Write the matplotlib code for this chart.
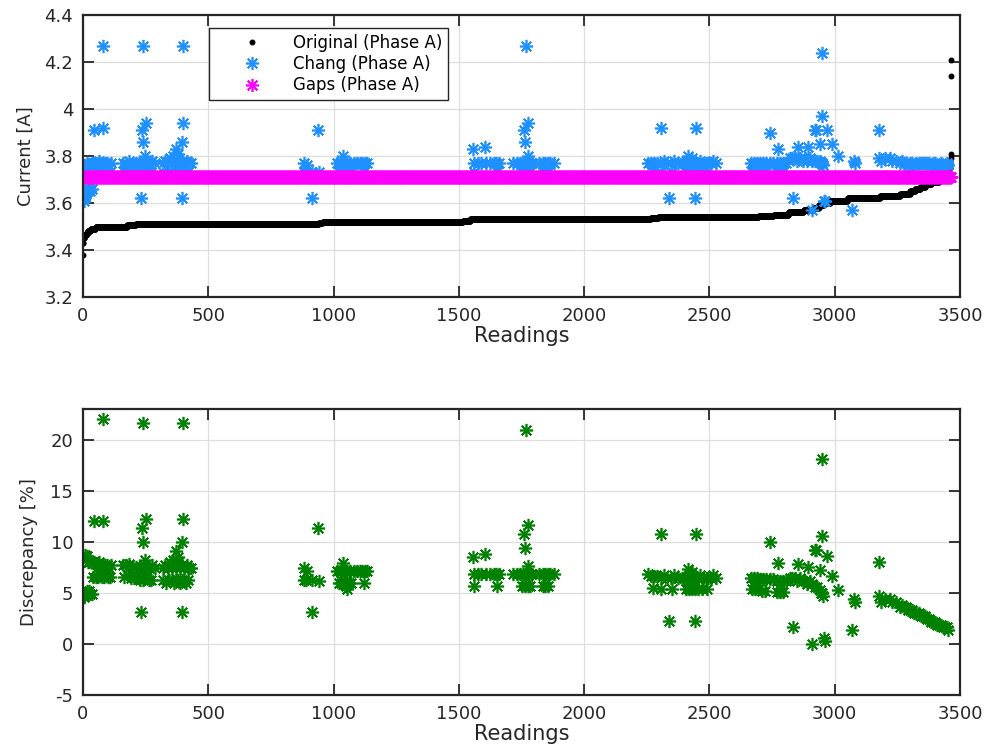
import numpy as np
import matplotlib
matplotlib.use('Agg')
import matplotlib.pyplot as plt
from matplotlib.ticker import FuncFormatter

plt.rcParams['font.family'] = ['DejaVu Sans']
plt.rcParams['axes.unicode_minus'] = False

# Original phase A current, sorted: level [A] and how many readings sit at it
orig_levels = [3.38, 3.43, 3.45, 3.46, 3.47, 3.48, 3.49, 3.50, 3.505, 3.51,
               3.515, 3.52, 3.525, 3.53, 3.535, 3.54, 3.545, 3.55, 3.56, 3.57,
               3.58, 3.59, 3.60, 3.61, 3.62, 3.63, 3.64, 3.65, 3.66, 3.67,
               3.68, 3.69, 3.70, 3.71, 3.73, 3.75, 3.77, 3.79, 3.81, 4.14, 4.21]
orig_runs = [1, 2, 3, 5, 8, 12, 20, 125, 35, 730,
             15, 560, 30, 720, 30, 400, 60, 60, 60, 40,
             20, 20, 25, 70, 130, 80, 40, 20, 20, 20,
             25, 30, 30, 10, 2, 2, 2, 1, 1, 1, 1]

# Gaps estimate (flat over all readings)
gaps_level = 3.71

# Chang estimate: reading index and current [A]
chang_idx = [
    3, 6, 10, 14, 18, 22, 26, 30, 36,
    8, 15, 25, 35, 45, 55, 62, 70, 78, 86, 95, 105, 112, 20, 40, 65,
    42, 52, 60, 68, 75, 82, 90, 100, 108, 44, 79, 79,
    160, 172, 185, 198, 210, 222, 235, 245, 255, 265, 275, 288,
    165, 178, 190, 203, 215, 228, 240, 252, 262, 272,
    241, 250, 234, 238, 231, 248,
    318, 328, 338, 348, 356, 364, 372, 380, 388, 396, 405, 414, 422, 432,
    320, 332, 345, 355, 362, 370, 378, 386, 394, 402, 410, 420,
    398, 400, 396, 370, 394, 360, 380,
    882, 882, 895, 912, 941, 937, 914, 890,
    1015, 1025, 1035, 1045, 1055, 1065, 1080, 1095, 1105, 1115, 1125, 1135,
    1020, 1030, 1040, 1050, 1060, 1070, 1120, 1038, 1050, 1055,
    1560, 1575, 1590, 1608, 1625, 1640, 1650, 1662, 1560, 1652, 1558, 1604,
    1716, 1730, 1745, 1755, 1765, 1772, 1780, 1790, 1820, 1835, 1845, 1855, 1865, 1880,
    1750, 1765, 1775, 1785, 1835, 1845, 1855,
    1766, 1774, 1760, 1762, 1775,
    2255, 2268, 2280, 2292, 2305, 2318, 2330, 2345, 2360, 2375, 2390, 2400,
    2410, 2420, 2430, 2440, 2450, 2462, 2475, 2485, 2495, 2505, 2515, 2525,
    2275, 2308, 2352, 2405, 2418, 2430, 2442, 2455, 2470, 2490,
    2305, 2337, 2416, 2446, 2441, 2432,
    2665, 2678, 2690, 2702, 2712, 2725, 2740, 2755, 2768, 2780, 2792, 2805,
    2668, 2680, 2695, 2710, 2722, 2770, 2782, 2795, 2742, 2775,
    2820, 2830, 2840, 2850, 2862, 2872, 2880, 2890, 2900, 2910, 2920, 2930,
    2940, 2945, 2950, 2952,
    2855, 2895, 2941, 2924, 2920, 2948, 2947, 2968, 2988, 3011, 2835, 2908,
    2955, 2962,
    3075, 3080, 3068,
    3175, 3178, 3185, 3200, 3221, 3230, 3245, 3261,
    3270, 3278, 3286, 3294, 3302, 3310, 3318, 3326, 3334, 3342, 3350, 3358,
    3366, 3374, 3382, 3390, 3398, 3406, 3414, 3422, 3430, 3438, 3446, 3452,
]
chang_val = [
    3.61, 3.62, 3.63, 3.64, 3.65, 3.65, 3.66, 3.65, 3.66,
    3.76, 3.77, 3.76, 3.77, 3.77, 3.76, 3.77, 3.77, 3.77, 3.77, 3.77, 3.76, 3.77, 3.76, 3.77, 3.78,
    3.72, 3.73, 3.73, 3.74, 3.73, 3.73, 3.74, 3.73, 3.73, 3.91, 3.92, 4.27,
    3.77, 3.77, 3.78, 3.77, 3.77, 3.77, 3.76, 3.78, 3.77, 3.77, 3.78, 3.77,
    3.73, 3.74, 3.73, 3.73, 3.74, 3.73, 3.73, 3.74, 3.73, 3.73,
    4.27, 3.94, 3.91, 3.86, 3.62, 3.80,
    3.77, 3.78, 3.77, 3.79, 3.77, 3.78, 3.77, 3.79, 3.77, 3.78, 3.77, 3.78, 3.77, 3.77,
    3.73, 3.72, 3.73, 3.73, 3.72, 3.73, 3.73, 3.72, 3.73, 3.73, 3.72, 3.73,
    4.27, 3.94, 3.86, 3.83, 3.62, 3.80, 3.81,
    3.77, 3.73, 3.76, 3.73, 3.73, 3.91, 3.62, 3.73,
    3.77, 3.77, 3.77, 3.77, 3.77, 3.77, 3.77, 3.77, 3.77, 3.77, 3.77, 3.77,
    3.73, 3.73, 3.73, 3.73, 3.73, 3.73, 3.73, 3.80, 3.72, 3.71,
    3.77, 3.77, 3.77, 3.77, 3.77, 3.77, 3.77, 3.77, 3.73, 3.73, 3.83, 3.84,
    3.77, 3.77, 3.77, 3.77, 3.77, 3.77, 3.77, 3.77, 3.77, 3.77, 3.77, 3.77, 3.77, 3.77,
    3.73, 3.73, 3.73, 3.73, 3.73, 3.73, 3.73,
    4.27, 3.94, 3.91, 3.86, 3.80,
    3.77, 3.77, 3.77, 3.77, 3.77, 3.78, 3.77, 3.77, 3.78, 3.77, 3.77, 3.77,
    3.77, 3.78, 3.77, 3.77, 3.77, 3.78, 3.77, 3.77, 3.77, 3.77, 3.78, 3.77,
    3.73, 3.73, 3.73, 3.73, 3.73, 3.73, 3.73, 3.73, 3.73, 3.73,
    3.92, 3.62, 3.80, 3.92, 3.62, 3.79,
    3.77, 3.77, 3.77, 3.77, 3.77, 3.77, 3.77, 3.77, 3.77, 3.77, 3.77, 3.77,
    3.73, 3.73, 3.73, 3.73, 3.73, 3.73, 3.73, 3.73, 3.90, 3.83,
    3.79, 3.79, 3.79, 3.78, 3.79, 3.78, 3.79, 3.78, 3.79, 3.78, 3.78, 3.78,
    3.78, 3.77, 3.77, 3.76,
    3.84, 3.84, 3.85, 3.91, 3.91, 3.97, 4.24, 3.91, 3.85, 3.80, 3.62, 3.57,
    3.61, 3.61,
    3.78, 3.77, 3.57,
    3.91, 3.79, 3.78, 3.79, 3.79, 3.78, 3.78, 3.77,
    3.78, 3.77, 3.77, 3.76, 3.77, 3.77, 3.76, 3.77, 3.77, 3.77, 3.77, 3.77,
    3.77, 3.77, 3.76, 3.77, 3.77, 3.76, 3.76, 3.77, 3.76, 3.76, 3.77, 3.76,
]

x_ticks = [0, 500, 1000, 1500, 2000, 2500, 3000, 3500]
cur_ticks = [3.2, 3.4, 3.6, 3.8, 4.0, 4.2, 4.4]
disc_ticks = [-5, 0, 5, 10, 15, 20]

orig = np.repeat(orig_levels, orig_runs)
readings = np.arange(len(orig))
gaps = np.full(len(orig), gaps_level)
c_idx = np.array(chang_idx)
c_val = np.array(chang_val)
# percentage discrepancy between Chang and the original current
disc = np.abs(c_val - orig[c_idx]) / orig[c_idx] * 100

dark = '#262626'
star = (8, 2, 0)
ms = 9.5
mew = 1.2


def style(ax):
    ax.set_xlim(0, 3500)
    ax.set_xticks(x_ticks)
    ax.grid(True, color='#dedede', lw=0.9)
    ax.set_axisbelow(True)
    ax.tick_params(direction='in', top=True, right=True, length=8, width=1.3,
                   labelsize=13, color=dark, labelcolor=dark, pad=7)
    for s in ax.spines.values():
        s.set_linewidth(1.6)
        s.set_color(dark)
    ax.set_xlabel('Readings', fontsize=15, color=dark, labelpad=1)


fig = plt.figure(figsize=(9.9, 7.55), dpi=100)
ax1 = fig.add_axes([0.0838, 0.6066, 0.886, 0.3735])
ax2 = fig.add_axes([0.0838, 0.0795, 0.886, 0.3788])

# top: currents
ax1.plot(readings, orig, ls='none', marker='.', ms=6.5, color='k',
         label='Original (Phase A)')
ax1.plot(c_idx, c_val, ls='none', marker=star, ms=ms, mew=mew,
         color='#1e90ff', label='Chang (Phase A)')
ax1.plot(readings, gaps, ls='none', marker=star, ms=ms, mew=mew,
         color='magenta', label='Gaps (Phase A)')
style(ax1)
ax1.set_ylim(3.2, 4.4)
ax1.set_yticks(cur_ticks)
ax1.yaxis.set_major_formatter(FuncFormatter(lambda v, p: '%g' % v))
ax1.set_ylabel('Current [A]', fontsize=13, color=dark, labelpad=7)
leg = ax1.legend(loc='upper left', bbox_to_anchor=(0.1437, 0.954),
                 borderaxespad=0, fancybox=False, framealpha=1,
                 edgecolor=dark, fontsize=12, handlelength=4.5,
                 handletextpad=0.2, borderpad=0.35, labelspacing=0.2)
leg.get_frame().set_linewidth(1.0)

# bottom: discrepancy
ax2.plot(c_idx, disc, ls='none', marker=star, ms=ms, mew=mew, color='green')
style(ax2)
ax2.set_ylim(-5, 23)
ax2.set_yticks(disc_ticks)
ax2.set_ylabel('Discrepancy [%]', fontsize=13, color=dark, labelpad=9)

fig.savefig('out.png', dpi=100)
